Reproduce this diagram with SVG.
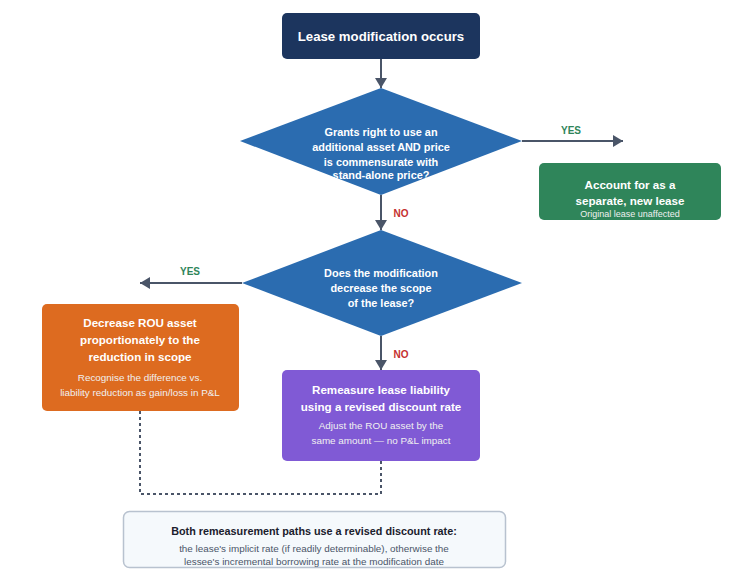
<svg xmlns="http://www.w3.org/2000/svg" width="749" height="575" viewBox="0 0 749 575">
<style>
text{font-family:"Liberation Sans",Arial,sans-serif;text-anchor:middle;dominant-baseline:central}
.t{fill:#fff;font-weight:bold;font-size:11.6px}
.q{fill:#fff;font-weight:bold;font-size:10.9px}
.s{fill:#f0f0f0;font-size:9.9px}
.c{stroke:#4a5568;stroke-width:2;fill:none}
.d{stroke:#4a5568;stroke-width:2;fill:none;stroke-dasharray:3 3}
.yes{fill:#2f855a;font-weight:bold;font-size:10px}
.no{fill:#c53030;font-weight:bold;font-size:10px}
</style>
<defs>
<marker id="ah" viewBox="0 0 10 12" refX="10" refY="6" markerWidth="5" markerHeight="6" markerUnits="strokeWidth" orient="auto">
<path d="M0,0 L10,6 L0,12 Z" fill="#4a5568"/>
</marker>
</defs>
<rect width="749" height="575" fill="#fff"/>
<g id="connectors">
<line class="c" x1="381" y1="59" x2="381" y2="88" marker-end="url(#ah)"/>
<line class="c" x1="522" y1="141" x2="623" y2="141" marker-end="url(#ah)"/>
<text class="yes" x="571" y="130">YES</text>
<line class="c" x1="381" y1="195" x2="381" y2="230" marker-end="url(#ah)"/>
<text class="no" x="401" y="213">NO</text>
<line class="c" x1="242" y1="283" x2="140" y2="283" marker-end="url(#ah)"/>
<text class="yes" x="190" y="271">YES</text>
<line class="c" x1="381" y1="336" x2="381" y2="370" marker-end="url(#ah)"/>
<text class="no" x="401" y="354">NO</text>
<path class="d" d="M140,411 V494 H381 V461"/>
</g>
<g id="start">
<rect x="282" y="13" width="198" height="46" rx="5" fill="#1c355e"/>
<text class="t" x="381" y="36" style="font-size:13.2px">Lease modification occurs</text>
</g>
<g id="decision1">
<polygon points="381,88 522,141 381,195 240,141" fill="#2b6cb0"/>
<text class="q" x="381" y="132">Grants right to use an</text>
<text class="q" x="381" y="147">additional asset AND price</text>
<text class="q" x="381" y="162">is commensurate with</text>
<text class="q" x="381" y="175">stand-alone price?</text>
</g>
<g id="newlease">
<rect x="539" y="163" width="182" height="57" rx="5" fill="#2f855a"/>
<text class="t" x="630" y="184">Account for as a</text>
<text class="t" x="630" y="200">separate, new lease</text>
<text class="s" x="630" y="214" style="font-size:9px">Original lease unaffected</text>
</g>
<g id="decision2">
<polygon points="381,230 522,283 381,336 242,283" fill="#2b6cb0"/>
<text class="q" x="381" y="273">Does the modification</text>
<text class="q" x="381" y="288">decrease the scope</text>
<text class="q" x="381" y="303">of the lease?</text>
</g>
<g id="decrease">
<rect x="42" y="304" width="197" height="107" rx="5" fill="#dd6b20"/>
<text class="t" x="140" y="322">Decrease ROU asset</text>
<text class="t" x="140" y="339">proportionately to the</text>
<text class="t" x="140" y="356">reduction in scope</text>
<text class="s" x="140" y="377">Recognise the difference vs.</text>
<text class="s" x="140" y="392">liability reduction as gain/loss in P&amp;L</text>
</g>
<g id="remeasure">
<rect x="282" y="370" width="198" height="91" rx="5" fill="#805ad5"/>
<text class="t" x="381" y="389">Remeasure lease liability</text>
<text class="t" x="381" y="406">using a revised discount rate</text>
<text class="s" x="381" y="425">Adjust the ROU asset by the</text>
<text class="s" x="381" y="440">same amount — no P&amp;L impact</text>
</g>
<g id="note">
<rect x="123.5" y="511.5" width="382" height="56" rx="6" fill="#f5f9fc" stroke="#b8c2cf" stroke-width="1.5"/>
<text x="314" y="531" style="font-weight:bold;font-size:10.8px;fill:#1a202c">Both remeasurement paths use a revised discount rate:</text>
<text x="314" y="548" style="font-size:9.9px;fill:#4a5568">the lease's implicit rate (if readily determinable), otherwise the</text>
<text x="314" y="561" style="font-size:9.9px;fill:#4a5568">lessee's incremental borrowing rate at the modification date</text>
</g>
</svg>
